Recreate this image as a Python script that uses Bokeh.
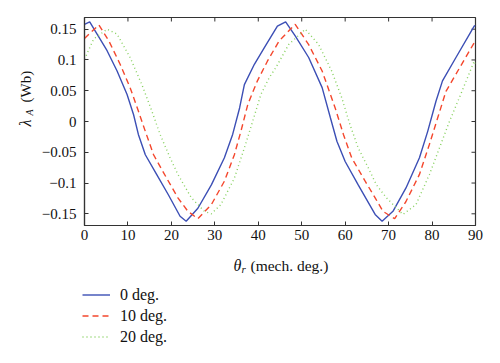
import math
from bokeh.plotting import figure
from bokeh.layouts import column, row
from bokeh.models import Range1d, Legend, LegendItem, Label, FixedTicker
from bokeh.embed import file_html
from bokeh.resources import INLINE

# --- data ---
theta_0 = [0, 1.2, 2.9, 5.2, 7.5, 9.8, 11.3, 12.4, 14.0, 16.6, 19.3, 22.0, 23.4, 26.1, 29.2, 32.2,
           34.1, 35.7, 36.8, 39.1, 41.4, 44.4, 46.3, 48.5, 51.6, 54.7, 56.6, 58.1, 60.0, 63.0,
           66.9, 68.5, 71.0, 74.0, 77.1, 79.0, 80.9, 82.4, 85.5, 89.7, 90]
flux_0 = [0.158, 0.162, 0.142, 0.115, 0.082, 0.044, 0.011, -0.021, -0.054, -0.086, -0.119, -0.154,
          -0.162, -0.141, -0.103, -0.059, -0.021, 0.022, 0.060, 0.093, 0.120, 0.155, 0.162, 0.139,
          0.104, 0.055, 0.006, -0.032, -0.065, -0.103, -0.151, -0.162, -0.146, -0.108, -0.059,
          -0.016, 0.033, 0.066, 0.104, 0.155, 0.156]

theta_10 = [0, 3.3, 5.6, 8.2, 10.5, 12.4, 14.0, 15.9, 18.9, 21.5, 23.8, 26.1, 29.2, 32.2, 34.5,
            36.0, 37.6, 39.8, 42.1, 44.8, 45.5, 48.5, 51.6, 54.7, 57.7, 59.6, 61.5, 64.6, 66.9,
            68.7, 71.4, 74.0, 77.1, 79.4, 81.3, 83.2, 85.5, 89.7, 90]
flux_10 = [0.135, 0.157, 0.131, 0.093, 0.055, 0.017, -0.016, -0.054, -0.092, -0.124, -0.146,
           -0.158, -0.135, -0.097, -0.054, -0.016, 0.028, 0.066, 0.098, 0.131, 0.136, 0.158,
           0.125, 0.082, 0.022, -0.021, -0.059, -0.097, -0.124, -0.146, -0.158, -0.130, -0.086,
           -0.037, 0.006, 0.049, 0.077, 0.128, 0.129]

theta_20 = [0, 2.1, 5.2, 7.5, 10.5, 13.2, 15.5, 17.4, 19.7, 21.5, 24.6, 27.6, 29.2, 31.4, 34.5,
            36.8, 38.7, 40.6, 42.5, 44.0, 47.0, 50.8, 53.9, 56.9, 59.2, 61.1, 63.0, 65.3, 67.2,
            69.5, 73.3, 76.3, 79.4, 81.7, 84.0, 86.3, 89.7, 90]
flux_20 = [0.101, 0.134, 0.150, 0.142, 0.104, 0.060, 0.017, -0.021, -0.059, -0.086, -0.124,
           -0.146, -0.150, -0.135, -0.092, -0.043, 0.0, 0.044, 0.071, 0.087, 0.125, 0.150, 0.125,
           0.082, 0.039, -0.005, -0.043, -0.075, -0.103, -0.124, -0.151, -0.135, -0.086, -0.043,
           0.0, 0.039, 0.098, 0.094]

series_names = ["0 deg.", "10 deg.", "20 deg."]
series_colors = ["#3c4fb5", "#f4472d", "#86d05e"]
series_dash = ["solid", "6 4", "1 3"]
x_ticks = [0, 10, 20, 30, 40, 50, 60, 70, 80, 90]
y_ticks = [-0.15, -0.1, -0.05, 0, 0.05, 0.1, 0.15]
y_tick_labels = ["\u22120.15", "\u22120.1", "\u22120.05", "0", "0.05", "0.1", "0.15"]

FONT = "Liberation Serif"
AX = "#333333"
TXT = "#111111"
X0, X1, Y0, Y1 = 0, 90, -0.169, 0.169

# ---------------- main plot ----------------
p = figure(width=462, height=248, output_backend="svg", toolbar_location=None,
           x_range=Range1d(X0, X1), y_range=Range1d(Y0, Y1),
           min_border_left=44, min_border_right=25, min_border_top=17, min_border_bottom=23)
p.outline_line_color = AX
p.outline_line_width = 1.2
p.grid.visible = False

for ax in (p.xaxis[0], p.yaxis[0]):
    ax.axis_line_color = AX
    ax.axis_line_width = 1.2
    ax.major_tick_in = 4
    ax.major_tick_out = 0
    ax.minor_tick_line_color = None
    ax.major_tick_line_color = AX
    ax.major_label_text_font = FONT
    ax.major_label_text_color = TXT
    ax.major_label_text_font_size = "15px"
p.xaxis[0].ticker = FixedTicker(ticks=x_ticks)
p.yaxis[0].ticker = FixedTicker(ticks=y_ticks)
p.yaxis[0].major_label_overrides = {t: l for t, l in zip(y_ticks, y_tick_labels)}
p.xaxis[0].major_label_standoff = 4
p.yaxis[0].major_label_standoff = 8

# inward ticks on the top and right edges of the box
p.ray(x=x_ticks, y=[Y1] * len(x_ticks), length=4, length_units="screen",
      angle=-math.pi / 2, line_color=AX, line_width=1)
p.ray(x=[X1] * len(y_ticks), y=y_ticks, length=4, length_units="screen",
      angle=math.pi, line_color=AX, line_width=1)

all_x = [theta_0, theta_10, theta_20]
all_y = [flux_0, flux_10, flux_20]
for xs, ys, c, d in zip(all_x, all_y, series_colors, series_dash):
    p.line(xs, ys, line_color=c, line_width=1.4, line_dash=d)

# ---------------- y-axis label strip ----------------
py = figure(width=38, height=248, output_backend="svg", toolbar_location=None,
            x_axis_type=None, y_axis_type=None, x_range=Range1d(0, 1), y_range=Range1d(0, 1),
            min_border=0)
py.outline_line_color = None
py.add_layout(Label(x=25, y=99, x_units="screen", y_units="screen", text="\u03bb",
                    angle=math.pi / 2, text_font=FONT, text_font_style="italic",
                    text_font_size="16px", text_color=TXT, text_baseline="middle"))
py.add_layout(Label(x=29, y=110, x_units="screen", y_units="screen", text="A",
                    angle=math.pi / 2, text_font=FONT, text_font_style="italic",
                    text_font_size="10px", text_color=TXT, text_baseline="middle"))
py.add_layout(Label(x=25, y=123, x_units="screen", y_units="screen", text="(Wb)",
                    angle=math.pi / 2, text_font=FONT, text_font_size="15px",
                    text_color=TXT, text_baseline="middle"))

# ---------------- x-axis label and legend strip ----------------
# x range placed away from the data so the sample lines only feed the legend
pb = figure(width=500, height=115, output_backend="svg", toolbar_location=None,
            x_axis_type=None, y_axis_type=None, x_range=Range1d(-2, -1), y_range=Range1d(0, 1),
            min_border=0)
pb.outline_line_color = None
pb.add_layout(Label(x=233, y=98, x_units="screen", y_units="screen", text="\u03b8",
                    text_font=FONT, text_font_style="italic", text_font_size="16px",
                    text_color=TXT, text_baseline="alphabetic"))
pb.add_layout(Label(x=241, y=95, x_units="screen", y_units="screen", text="r",
                    text_font=FONT, text_font_style="italic", text_font_size="11px",
                    text_color=TXT, text_baseline="alphabetic"))
pb.add_layout(Label(x=250, y=98, x_units="screen", y_units="screen", text="(mech. deg.)",
                    text_font=FONT, text_font_size="15.5px", text_color=TXT,
                    text_baseline="alphabetic"))

items = []
for name, xs, ys, c, d in zip(series_names, all_x, all_y, series_colors, series_dash):
    r = pb.line(xs, ys, line_color=c, line_width=1.4, line_dash=d)
    items.append(LegendItem(label=name, renderers=[r]))
legend = Legend(items=items, location=(82, 16), orientation="vertical",
                glyph_width=28, glyph_height=21, label_height=21, spacing=0,
                label_standoff=10, padding=0, margin=0,
                label_text_font=FONT, label_text_font_size="16px", label_text_color=TXT,
                border_line_alpha=0, background_fill_alpha=0)
pb.add_layout(legend, "center")

layout = column(row(py, p, spacing=0), pb, spacing=0)
open("out.html", "w").write(file_html(layout, INLINE))
